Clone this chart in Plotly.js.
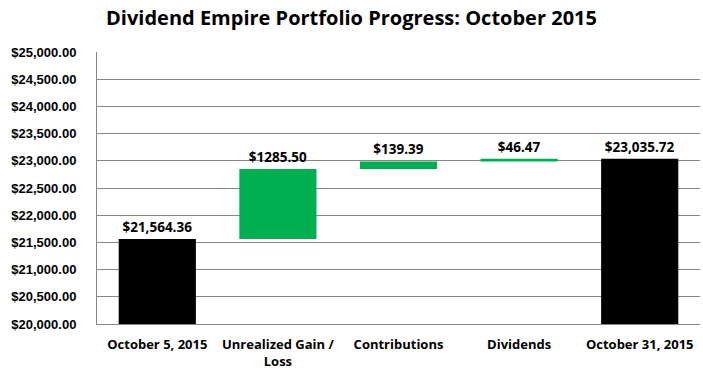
<!DOCTYPE html>
<html><head><meta charset="utf-8">
<script src="https://cdn.plot.ly/plotly-3.0.1.min.js"></script>
<style>body{margin:0;padding:0;background:#fff}#chart{width:703px;height:374px}</style>
</head><body><div id="chart"></div>
<script>
const categories = ["October 5, 2015", "Unrealized Gain /<br>Loss", "Contributions", "Dividends", "October 31, 2015"];
const startValue = 21564.36;
const changes = [1285.50, 139.39, 46.47];
const endValue = 23035.72;
const labels = ["$21,564.36", "$1285.50", "$139.39", "$46.47", "$23,035.72"];
const axisMin = 20000;

const bases = [axisMin];
const heights = [startValue - axisMin];
let running = startValue;
changes.forEach(c => { bases.push(running); heights.push(c); running += c; });
bases.push(axisMin); heights.push(endValue - axisMin);
const colors = ["#000000", "#00B050", "#00B050", "#00B050", "#000000"];

const font = "Open Sans, Liberation Sans, sans-serif";
const yfont = "Liberation Sans, Arial, sans-serif";
Plotly.newPlot("chart", [{
  type: "bar", x: categories, y: heights, base: bases,
  marker: {color: colors, line: {width: 0}},
  text: labels, textposition: "outside", cliponaxis: false,
  textfont: {family: font, size: 13.5, color: "#000", weight: "bold"},
  hoverinfo: "none"
}], {
  width: 703, height: 374,
  margin: {l: 97, r: 3, t: 52, b: 50},
  title: {text: "<b>Dividend Empire Portfolio Progress: October 2015</b>", x: 0.5, xanchor: "center", y: 0.952, yanchor: "middle",
          font: {family: font, size: 20, color: "#000"}},
  bargap: 0.36,
  showlegend: false,
  plot_bgcolor: "#fff", paper_bgcolor: "#fff",
  xaxis: {showgrid: false, showline: true, linecolor: "#868686", ticks: "", ticklabelstandoff: 8,
          tickfont: {family: font, size: 13, color: "#000", weight: "bold"}},
  yaxis: {range: [20000, 25000], dtick: 500, tickformat: "$,.2f", showline: true, linecolor: "#868686",
          gridcolor: "#868686", gridwidth: 1, zeroline: false, ticks: "", ticklen: 0, ticklabelstandoff: 17,
          tickfont: {family: yfont, size: 13, color: "#000", weight: "bold"}}
}, {displayModeBar: false, staticPlot: true});
</script></body></html>
